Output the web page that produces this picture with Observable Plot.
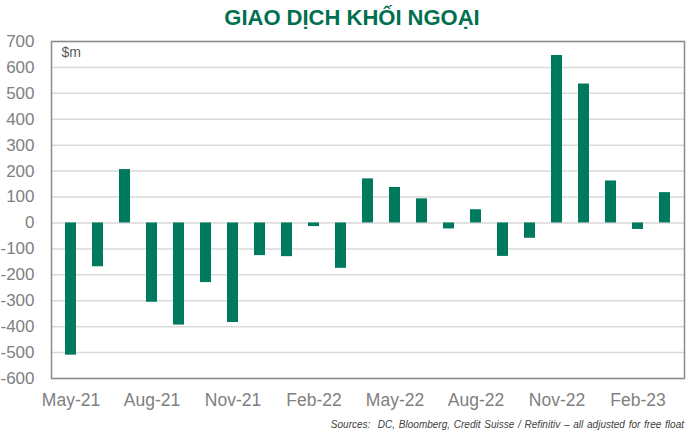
<!DOCTYPE html>
<html>
<head>
<meta charset="utf-8">
<script src="https://cdn.jsdelivr.net/npm/d3@7"></script>
<script src="https://cdn.jsdelivr.net/npm/@observablehq/plot@0.6"></script>
<style>
  html, body { margin: 0; padding: 0; background: #fff; }
  body { width: 692px; height: 437px; overflow: hidden; font-family: "Liberation Sans", Arial, sans-serif; }
  #title { height: 33px; line-height: 36px; text-align: center; font-weight: bold; font-size: 22px; color: #00704f; padding-left: 12px; }
  #caption { text-align: right; font-style: italic; font-size: 10px; color: #404040; padding-right: 8px; margin-top: 8px; word-spacing: 1px; }
  svg { display: block; overflow: visible; }
</style>
</head>
<body>
<div id="title">GIAO DỊCH KHỐI NGOẠI</div>
<div id="chart"></div>
<div id="caption">Sources:&nbsp; DC, Bloomberg, Credit Suisse / Refinitiv – all adjusted for free float</div>
<script>
const months = ["May-21","Jun-21","Jul-21","Aug-21","Sep-21","Oct-21","Nov-21","Dec-21","Jan-22","Feb-22","Mar-22","Apr-22","May-22","Jun-22","Jul-22","Aug-22","Sep-22","Oct-22","Nov-22","Dec-22","Jan-23","Feb-23","Mar-23"];
const values = [-510,-169,206,-306,-394,-230,-384,-126,-130,-14,-175,170,137,93,-23,51,-129,-59,646,536,162,-25,117];
const yTicks = [-600,-500,-400,-300,-200,-100,0,100,200,300,400,500,600,700];
const xTickLabels = ["May-21","Aug-21","Nov-21","Feb-22","May-22","Aug-22","Nov-22","Feb-23"];
const unitLabel = "$m";

const data = months.map((m, i) => ({month: m, value: values[i]}));

const chart = Plot.plot({
  width: 692,
  height: 378,
  marginTop: 8,
  marginLeft: 51,
  marginRight: 8,
  marginBottom: 33,
  style: {fontFamily: "'Liberation Sans', Arial, sans-serif", background: "#fff", overflow: "visible"},
  x: {domain: months, paddingInner: 0.6, paddingOuter: 0.3, label: null},
  y: {domain: [-600, 700], label: null},
  marks: [
    Plot.gridY(yTicks, {stroke: "#d9d9d9", strokeOpacity: 1, strokeWidth: 1.5}),
    Plot.barY(data, {x: "month", y: "value", fill: "#007a5e"}),
    Plot.frame({stroke: "#8c8c8c", strokeWidth: 1.5}),
    Plot.axisY(yTicks, {tickSize: 0, tickPadding: 17, fontSize: 17, fill: "#808080", label: null, tickFormat: d => String(d)}),
    Plot.axisX(xTickLabels, {tickSize: 0, tickPadding: 15, fontSize: 17.5, fill: "#808080", label: null}),
    Plot.text([unitLabel], {frameAnchor: "top-left", dx: 10, dy: 6, fontSize: 14, fill: "#595959", textAnchor: "start", lineAnchor: "top"})
  ]
});
document.getElementById("chart").appendChild(chart);
</script>
</body>
</html>
